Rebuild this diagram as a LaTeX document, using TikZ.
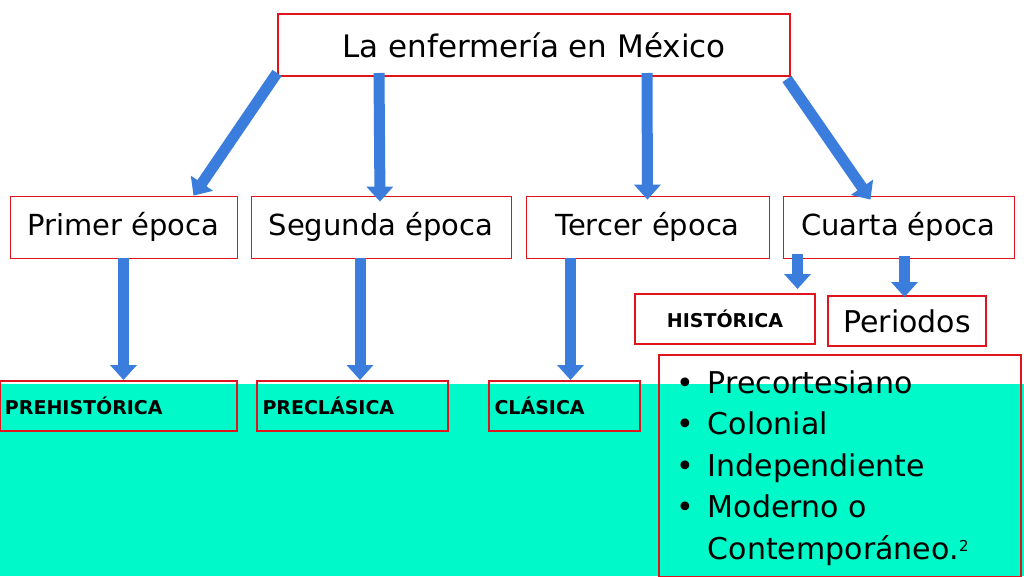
\documentclass[tikz,border=0pt]{standalone}
\usepackage{fontspec}
\setmainfont{DejaVu Sans}
\usetikzlibrary{arrows.meta}
\definecolor{teal1}{HTML}{00F9C8}
\definecolor{ared}{HTML}{E0141E}
\definecolor{ablue}{HTML}{3B7DDD}
\tikzset{
  thinbox/.style={draw=ared,line width=0.8pt,inner sep=0pt,font=\fontsize{29}{32}\selectfont},
  thickbox/.style={draw=ared,line width=2pt,inner sep=0pt},
  boldlab/.style={font=\bfseries\fontsize{19}{22}\selectfont},
  bigarrow/.style={draw=ablue,line width=11pt,-{Triangle[width=26pt,length=15pt]}},
}
\begin{document}
\begin{tikzpicture}[x=1pt,y=-1pt]
\useasboundingbox (0,0) rectangle (1024,576);
\fill[white] (0,0) rectangle (1024,576);
\fill[teal1] (0,384) rectangle (1024,576);
\node[thickbox,minimum width=512,minimum height=62,font=\fontsize{31}{34}\selectfont] (title) at (534,45) {La enfermería en México};
\node[thinbox,minimum width=227,minimum height=62] (e1) at (123.5,227) {Primer época};
\node[thinbox,minimum width=260,minimum height=62] (e2) at (381,227) {Segunda época};
\node[thinbox,minimum width=243,minimum height=62] (e3) at (647.5,227) {Tercer época};
\node[thinbox,minimum width=231,minimum height=62] (e4) at (898.5,227) {Cuarta época};
\node[thickbox,minimum width=180,minimum height=50,boldlab] (hist) at (725,319) {HISTÓRICA};
\node[thickbox,minimum width=158,minimum height=50,font=\fontsize{30}{32}\selectfont] (per) at (907,321) {Periodos};
\node[thickbox,minimum width=237,minimum height=50,boldlab,text width=227,align=left] (pre) at (118.5,406) {PREHISTÓRICA};
\node[thickbox,minimum width=191,minimum height=50,boldlab,text width=180,align=left] (precl) at (352.5,406) {PRECLÁSICA};
\node[thickbox,minimum width=151,minimum height=50,boldlab,text width=140,align=left] (cl) at (564.5,406) {CLÁSICA};
\node[thickbox,minimum width=362,minimum height=222,anchor=north west] (list) at (658,354) {};
\node[anchor=north west,font=\fontsize{30}{41.5}\selectfont,align=left,inner sep=0pt] (items) at (676,370) {%
\textbullet\hspace{14pt}Precortesiano\\
\textbullet\hspace{14pt}Colonial\\
\textbullet\hspace{14pt}Independiente\\
\textbullet\hspace{14pt}Moderno o\\
\hphantom{\textbullet}\hspace{14pt}Contemporáneo.};
\node[font=\fontsize{15}{16}\selectfont] (pg) at (964,546) {2};
\draw[bigarrow] ([yshift=4pt]title.south west) -- ([xshift=70pt]e1.north);
\draw[bigarrow] ([xshift=102pt,yshift=4pt]title.south west) -- ([xshift=-1pt,yshift=-6pt]e2.north);
\draw[bigarrow] ([xshift=370pt,yshift=4pt]title.south west) -- ([yshift=-4pt]e3.north);
\draw[bigarrow] ([xshift=-4pt,yshift=-2pt]title.south east) -- ([xshift=-28pt,yshift=-4pt]e4.north);
\draw[bigarrow] (e1.south) -- ([xshift=5pt]pre.north);
\draw[bigarrow] ([xshift=-21pt]e2.south) -- ([xshift=7.5pt]precl.north);
\draw[bigarrow] ([xshift=-77pt]e3.south) -- ([xshift=6pt]cl.north);
\draw[bigarrow] ([xshift=-101pt,yshift=4pt]e4.south) -- ([xshift=72.5pt,yshift=4pt]hist.north);
\draw[bigarrow] ([xshift=6pt,yshift=2pt]e4.south) -- ([xshift=-2.5pt,yshift=-2pt]per.north);
\end{tikzpicture}
\end{document}
